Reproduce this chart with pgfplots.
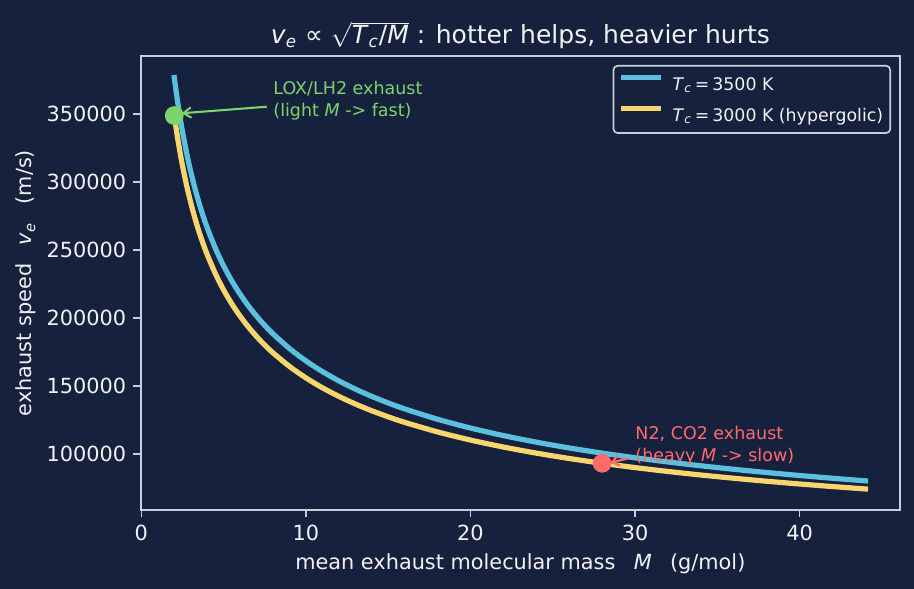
\documentclass[border=0pt]{standalone}
\usepackage{fontspec}
\setmainfont{DejaVu Sans}
\usepackage{pgfplots}
\pgfplotsset{compat=1.18}
\usetikzlibrary{arrows.meta}

\definecolor{bg}{HTML}{16213E}
\definecolor{spine}{HTML}{C8CFDC}
\definecolor{ink}{HTML}{F2F2F2}
\definecolor{hot}{HTML}{5BC0DE}
\definecolor{hyp}{HTML}{F9D56E}
\definecolor{lightM}{HTML}{7ED36B}
\definecolor{heavyM}{HTML}{FF6B6B}

\newcommand{\ital}[1]{\textit{#1}}
\newcommand{\Tc}{\ital{T}\textsubscript{\ital{c}}}
\newcommand{\gap}{\hspace{8.8pt}}

% exhaust speed v_e against mean molecular mass M, two chamber temperatures
\pgfplotstableread{
M     hot     hyp
2     376537  348605
2.1   367459  340202
2.2   359011  332381
2.35  347366  321598
2.5   336782  311800
2.75  321110  297291
3     307439  284634
3.25  295377  273467
3.5   284633  263519
3.75  274982  254584
4     266250  246500
4.5   251023  232402
5     238141  220476
5.5   227058  210216
6     217392  201267
6.5   208864  193371
7     201266  186337
7.5   194442  180018
8     188267  174302
9     177500  164333
10    168391  155900
11    160555  148645
12    153719  142317
13    147689  136733
14    142316  131760
15    137491  127292
16    133125  123250
18    125511  116201
20    119070  110238
22    113529  105108
24    108696  100633
26    104432  96685
28    100633  93168
30    97221   90008
32    94134   87151
34    91323   84549
36    88750   82167
38    86383   79975
40    84196   77950
42    82167   76072
44    80278   74322
}\speeds

\begin{document}
\begin{tikzpicture}
\fill[bg] (-67.54pt,-37.92pt) rectangle (371.18pt,244.8pt);
\path[use as bounding box] (-67.54pt,-37.92pt) rectangle (371.18pt,244.8pt);
\begin{axis}[
  scale only axis, width=364.46pt, height=217.92pt,
  at={(0,0)}, anchor=south west,
  xmin=-0.04, xmax=46.1, ymin=58850, ymax=392400,
  axis background/.style={fill=bg},
  axis line style={spine, line width=0.8pt},
  xtick={0,10,20,30,40},
  ytick={100000,150000,200000,250000,300000,350000},
  scaled y ticks=false,
  /pgf/number format/fixed,
  /pgf/number format/1000 sep={},
  /pgf/number format/assume math mode=true,
  tick align=outside, tick pos=left,
  major tick length=3.5pt,
  tick style={spine, line width=0.8pt},
  ticklabel style={font=\fontsize{10}{12}\selectfont, text=ink},
  title={\ital{v}\textsubscript{\ital{e}} ∝ $\sqrt{\mbox{\Tc/\ital{M}}}$ : hotter helps, heavier hurts},
  title style={at={(0.5,1)}, anchor=base, yshift=0pt, inner sep=0pt,
    font=\fontsize{12}{14.4}\selectfont, text=ink},
  xlabel={mean exhaust molecular mass\gap\ital{M}\gap(g/mol)},
  xlabel style={at={([yshift=-28.8pt]axis description cs:0.5,0)}, anchor=base,
    inner sep=0pt, font=\fontsize{10}{12}\selectfont, text=ink},
  ylabel={exhaust speed\gap\ital{v}\textsubscript{\ital{e}}\gap(m/s)},
  ylabel style={at={([xshift=-52.2pt]axis description cs:0,0.5)}, anchor=base,
    inner sep=0pt, font=\fontsize{10}{12}\selectfont, text=ink},
  legend image code/.code={\draw[#1, line cap=rect] (0pt,3.5pt) -- (16.7pt,3.5pt);},
  legend cell align=left,
  legend style={at={(1,1)}, anchor=north east, xshift=-4.3pt, yshift=-4.3pt,
    draw=spine, line width=0.8pt, fill=bg, rounded corners=2pt,
    text=ink, font=\fontsize{8.33}{10}\selectfont,
    inner xsep=3.4pt, inner ysep=4.2pt, row sep=6pt,
    nodes={inner sep=0pt, text height=7pt, text depth=1.4pt},
    /tikz/every odd column/.append style={column sep=5.8pt}},
]
\addplot[hot, line width=2.5pt, line cap=rect, smooth] table[x=M, y=hot] {\speeds};
\addlegendentry{\Tc\,=\,3500 K}
\addplot[hyp, line width=2.5pt, line cap=rect, smooth] table[x=M, y=hyp] {\speeds};
\addlegendentry{\Tc\,=\,3000 K (hypergolic)}

% labelled points on the 3000 K curve
\addplot[only marks, mark=*, mark size=4.3pt, lightM, mark options={draw=lightM, fill=lightM}, forget plot]
  coordinates {(2,348605)};
\addplot[only marks, mark=*, mark size=4.3pt, heavyM, mark options={draw=heavyM, fill=heavyM}, forget plot]
  coordinates {(28,93168)};

\draw[lightM, line width=1pt, -{Straight Barb[length=3.6pt,width=5pt]}]
  (axis cs:7.62,355140) -- (axis cs:2.455,350300);
\node[anchor=base west, inner sep=0pt, text=lightM, font=\fontsize{8.4}{10}\selectfont]
  at (axis cs:8,364250) {LOX/LH2 exhaust};
\node[anchor=base west, inner sep=0pt, text=lightM, font=\fontsize{8.4}{10}\selectfont]
  at (axis cs:8,347800) {(light \ital{M} -> fast)};

\draw[heavyM, line width=1pt, -{Straight Barb[length=3.6pt,width=5pt]}]
  (axis cs:29.6,96840) -- (axis cs:28.48,93500);
\node[anchor=base west, inner sep=0pt, text=heavyM, font=\fontsize{8.4}{10}\selectfont]
  at (axis cs:30,110800) {N2, CO2 exhaust};
\node[anchor=base west, inner sep=0pt, text=heavyM, font=\fontsize{8.4}{10}\selectfont]
  at (axis cs:30,94340) {(heavy \ital{M} -> slow)};
\end{axis}
\end{tikzpicture}
\end{document}
